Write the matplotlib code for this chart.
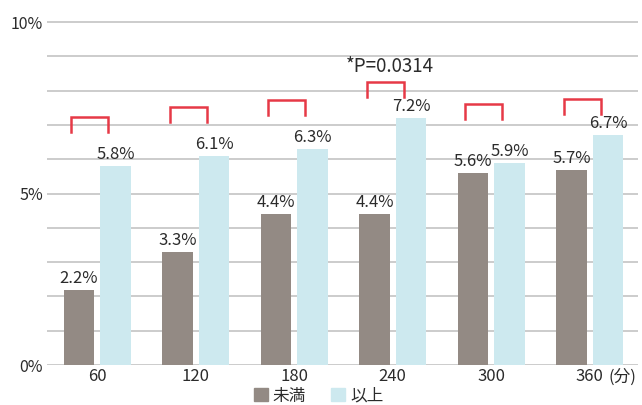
import matplotlib
matplotlib.use("Agg")
import matplotlib.pyplot as plt
from matplotlib.patches import Patch
import numpy as np

plt.rcParams['font.family'] = ['Noto Sans CJK JP', 'DejaVu Sans']

categories = ["60", "120", "180", "240", "300", "360"]
below = [2.2, 3.3, 4.4, 4.4, 5.6, 5.7]      # 未満
above = [5.8, 6.1, 6.3, 7.2, 5.9, 6.7]      # 以上
series_names = ["未満", "以上"]
unit_label = "(分)"
p_text = "*P=0.0314"
y_ticks = [0, 5, 10]
y_tick_labels = ["0%", "5%", "10%"]

# bracket layout (annotation heights)
bracket_top = [7.23, 7.52, 7.73, 8.25, 7.61, 7.76]
bracket_drop = 0.44

c_below = "#938a84"
c_above = "#cde9ef"
c_red = "#e63946"
c_grid = "#c8c8c8"
c_text = "#2b2b2b"

fig = plt.figure(figsize=(6.42, 4.05), dpi=100)
ax = fig.add_axes([47/642, 40/405, (638-47)/642, (365-16.9)/405])

x = np.arange(len(categories))
w = 0.31
off = 0.185
b1 = ax.bar(x - off, below, w, color=c_below, zorder=2)
b2 = ax.bar(x + off, above, w, color=c_above, zorder=2)
ax.bar_label(b1, labels=[f"{v:.1f}%" for v in below], padding=2, fontsize=12, color=c_text)
ax.bar_label(b2, labels=[f"{v:.1f}%" for v in above], padding=2, fontsize=12, color=c_text)

for gy in range(0, 11):
    ax.axhline(gy, color=c_grid, lw=1.3, zorder=1)

for i, top in enumerate(bracket_top):
    x0, x1 = i - 0.265, i + 0.11
    ax.plot([x0, x0, x1, x1], [top - bracket_drop, top, top, top - bracket_drop],
            color=c_red, lw=1.8, zorder=3, solid_joinstyle='miter')

ax.text(2.97, 8.69, p_text, ha='center', va='center', fontsize=13.5, color=c_text)

ax.set_xlim(-0.51, 5.49)
ax.set_ylim(0, 10.15)
ax.set_yticks(y_ticks)
ax.set_yticklabels(y_tick_labels, fontsize=11.5, color=c_text)
ax.set_xticks(x)
ax.set_xticklabels(categories, fontsize=12, color=c_text)
ax.tick_params(axis='both', length=0)
ax.tick_params(axis='y', pad=3)
ax.tick_params(axis='x', pad=2.5)
for s in ax.spines.values():
    s.set_visible(False)

ax.annotate(unit_label, xy=(5.33, 0), xycoords=('data', 'axes fraction'),
            xytext=(0, -2.5), textcoords='offset points', ha='center', va='top',
            fontsize=12, color=c_text)

handles = [Patch(color=c_below), Patch(color=c_above)]
fig.legend(handles, series_names, loc='center', bbox_to_anchor=(0.496, 0.022),
           ncol=2, frameon=False, fontsize=12, handlelength=0.85, handleheight=0.85,
           handletextpad=0.3, columnspacing=1.5, labelcolor=c_text,
           borderpad=0.05)

fig.savefig("out.png", dpi=100)
